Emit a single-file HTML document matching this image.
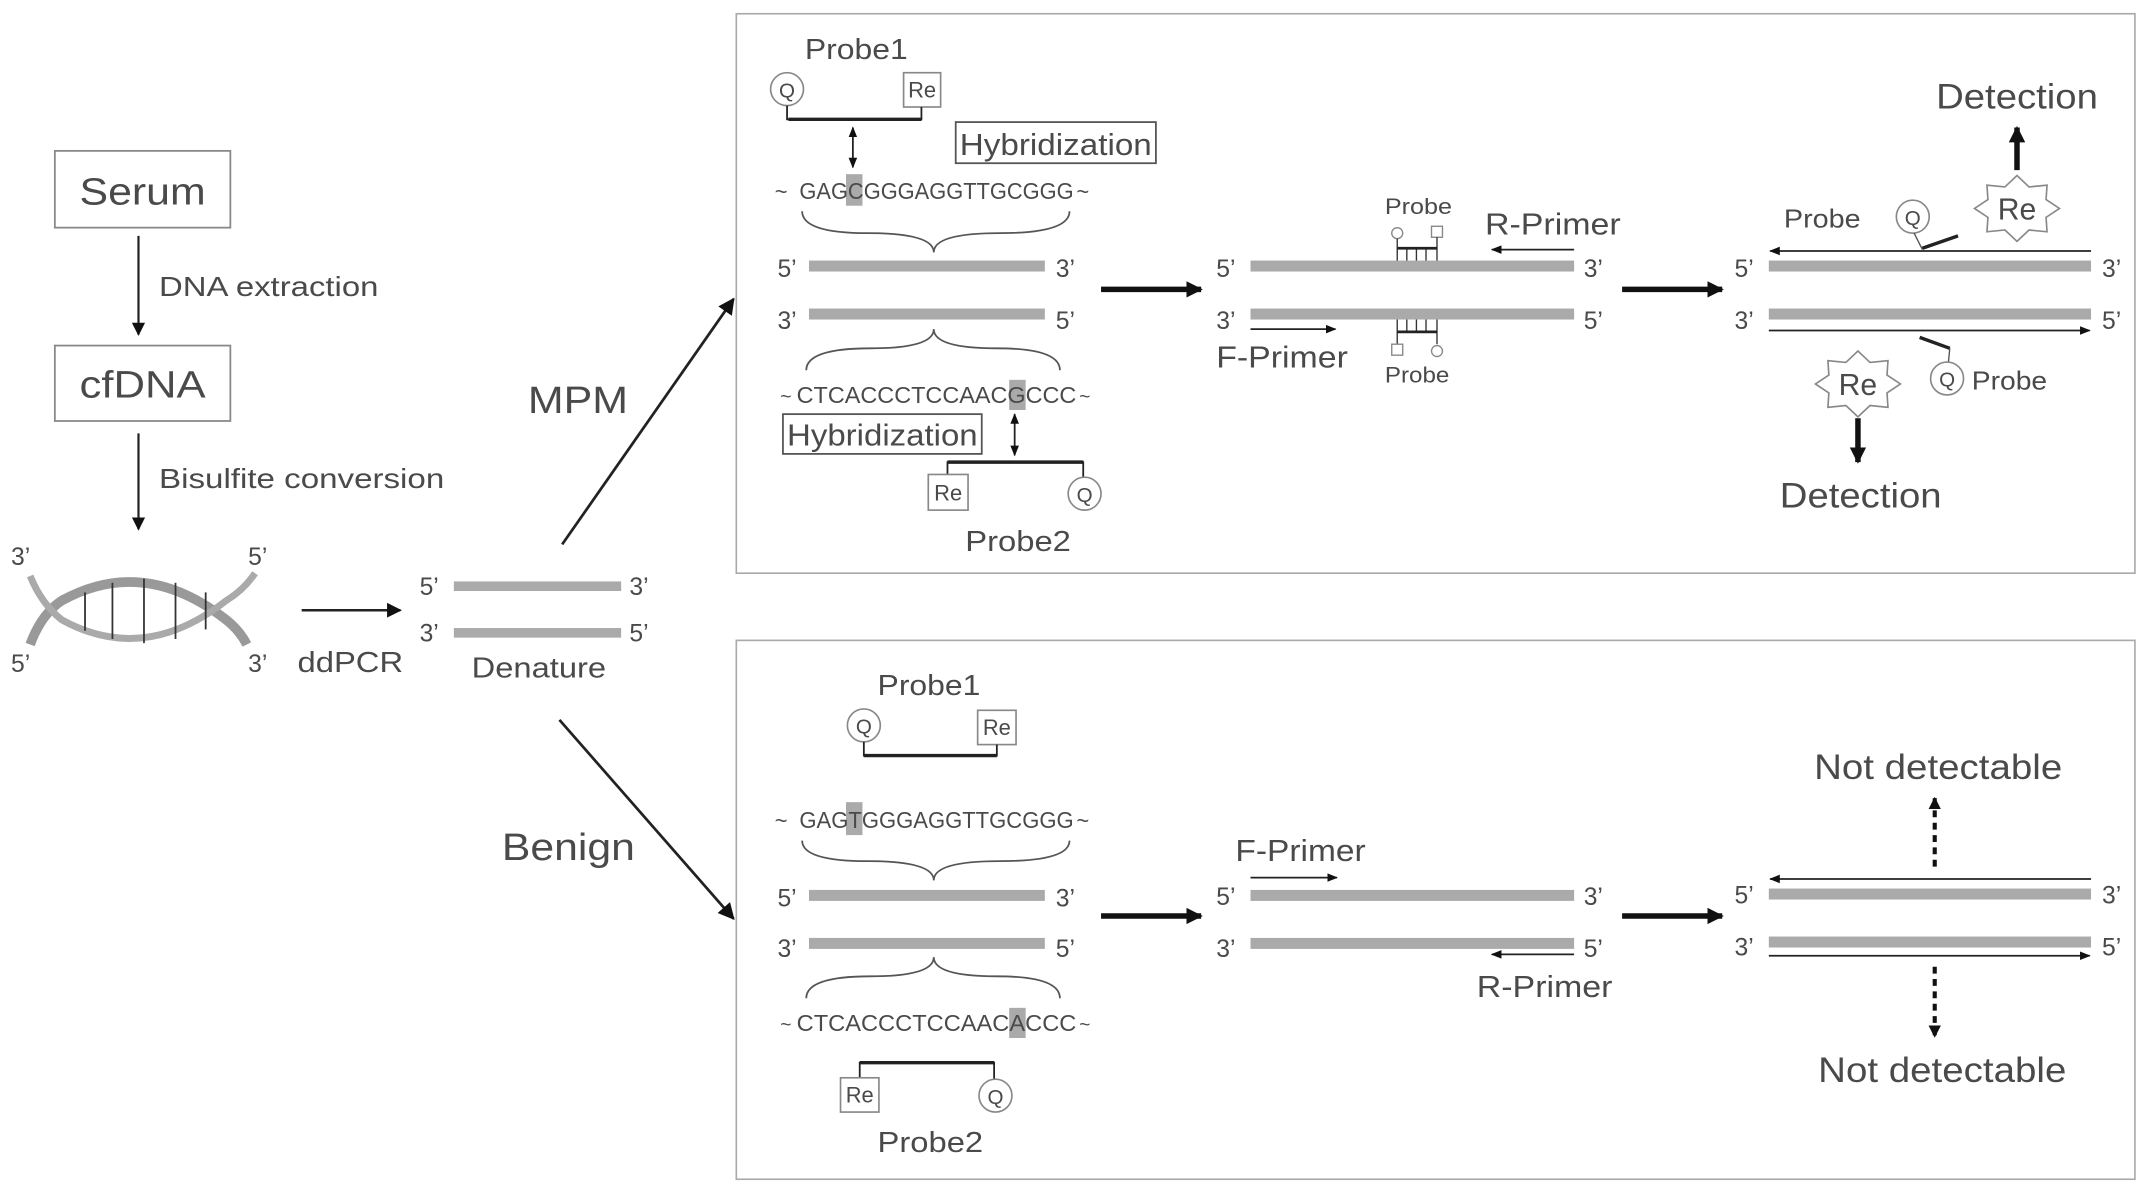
<!DOCTYPE html>
<html><head><meta charset="utf-8"><style>
html,body{margin:0;padding:0;background:#fff;width:2150px;height:1193px;overflow:hidden}
svg{display:block}
text{font-family:"Liberation Sans",sans-serif;fill:#4a4a4a}
</style></head><body>
<svg width="2150" height="1193" viewBox="0 0 1568 870" xmlns="http://www.w3.org/2000/svg">
<defs>
<marker id="ah" viewBox="0 0 10 10" refX="9" refY="5" markerWidth="6" markerHeight="6" orient="auto-start-reverse"><path d="M0,1L10,5L0,9z" fill="#111"/></marker>
<marker id="as" viewBox="0 0 10 10" refX="9" refY="5" markerWidth="7" markerHeight="6" orient="auto-start-reverse"><path d="M0,0L10,5L0,10z" fill="#111"/></marker>
<marker id="at" viewBox="0 0 10 10" refX="9" refY="5" markerWidth="3" markerHeight="3" orient="auto"><path d="M0,0L10,5L0,10z" fill="#111"/></marker>
<g id="star"><polygon points="31,0 21.2,6.5 21.9,17 8.8,15.7 0,24 -8.8,15.7 -21.9,17 -21.2,6.5 -31,0 -21.2,-6.5 -21.9,-17 -8.8,-15.7 0,-24 8.8,-15.7 21.9,-17 21.2,-6.5" fill="#fff" stroke="#888" stroke-width="1.2"/></g>
</defs>

<!-- Left flow -->
<rect x="40" y="110" width="128" height="56" fill="#fff" stroke="#888" stroke-width="1.3"/>
<text x="58" y="149" font-size="28" textLength="92" lengthAdjust="spacingAndGlyphs">Serum</text>
<line x1="101" y1="172" x2="101" y2="244" stroke="#222" stroke-width="1.6" marker-end="url(#as)"/>
<text x="116" y="216" font-size="20" textLength="160" lengthAdjust="spacingAndGlyphs">DNA extraction</text>
<rect x="40" y="252" width="128" height="55" fill="#fff" stroke="#888" stroke-width="1.3"/>
<text x="58" y="290" font-size="28" textLength="92" lengthAdjust="spacingAndGlyphs">cfDNA</text>
<line x1="101" y1="316" x2="101" y2="386" stroke="#222" stroke-width="1.6" marker-end="url(#as)"/>
<text x="116" y="356" font-size="20" textLength="208" lengthAdjust="spacingAndGlyphs">Bisulfite conversion</text>

<!-- helix -->
<path d="M22,470 Q30,448 45,438 Q105,405 165,452 Q175,460 180,470" fill="none" stroke="#999" stroke-width="7"/>
<path d="M22,420 Q30,440 45,452 Q105,485 165,438 Q178,430 186,418" fill="none" stroke="#aaa" stroke-width="5"/>
<g stroke="#333" stroke-width="1.3">
<line x1="62" y1="432" x2="62" y2="460"/><line x1="82" y1="425" x2="82" y2="466"/>
<line x1="105" y1="422" x2="105" y2="469"/><line x1="128" y1="425" x2="128" y2="466"/>
<line x1="150" y1="432" x2="150" y2="459"/></g>
<text x="8" y="412" font-size="18">3’</text><text x="181" y="412" font-size="18">5’</text>
<text x="8" y="490" font-size="18">5’</text><text x="181" y="490" font-size="18">3’</text>
<line x1="220" y1="445" x2="292" y2="445" stroke="#222" stroke-width="1.8" marker-end="url(#as)"/>
<text x="217" y="490" font-size="21" textLength="77" lengthAdjust="spacingAndGlyphs">ddPCR</text>
<text x="306" y="434" font-size="18">5’</text><rect x="331" y="424" width="122" height="7" fill="#aaa"/><text x="459" y="434" font-size="18">3’</text>
<text x="306" y="468" font-size="18">3’</text><rect x="331" y="458" width="122" height="7" fill="#aaa"/><text x="459" y="468" font-size="18">5’</text>
<text x="344" y="494" font-size="21" textLength="98" lengthAdjust="spacingAndGlyphs">Denature</text>
<line x1="410" y1="397" x2="535" y2="218" stroke="#222" stroke-width="2" marker-end="url(#as)"/>
<text x="385" y="301" font-size="28" textLength="73" lengthAdjust="spacingAndGlyphs">MPM</text>
<line x1="408" y1="525" x2="535" y2="670" stroke="#222" stroke-width="2" marker-end="url(#as)"/>
<text x="366" y="627" font-size="28" textLength="97" lengthAdjust="spacingAndGlyphs">Benign</text>

<!-- panels -->
<rect x="537" y="10" width="1020" height="408" fill="none" stroke="#aaa" stroke-width="1.2"/>
<rect x="537" y="467" width="1020" height="393" fill="none" stroke="#aaa" stroke-width="1.2"/>

<!-- ===== TOP PANEL ===== -->
<text x="587" y="43" font-size="21" textLength="75" lengthAdjust="spacingAndGlyphs">Probe1</text>
<circle cx="574" cy="65" r="12" fill="#fff" stroke="#888" stroke-width="1.2"/><text x="574" y="71" font-size="15" text-anchor="middle">Q</text>
<rect x="659" y="53" width="27" height="25" fill="#fff" stroke="#888" stroke-width="1.2"/><text x="672.5" y="71" font-size="16" text-anchor="middle">Re</text>
<path d="M574,77V87H672V78" fill="none" stroke="#222" stroke-width="1.3"/><line x1="575" y1="87" x2="672" y2="87" stroke="#222" stroke-width="2.5"/>
<line x1="622" y1="93" x2="622" y2="122" stroke="#222" stroke-width="1.3" marker-start="url(#ah)" marker-end="url(#ah)"/>
<rect x="697" y="89" width="146" height="30" fill="#fff" stroke="#555" stroke-width="1.3"/><text x="700" y="113" font-size="22" textLength="140" lengthAdjust="spacingAndGlyphs">Hybridization</text>
<rect x="617" y="127" width="12" height="23" fill="#aaa"/>
<text x="565" y="145" font-size="16">~</text><text x="583" y="145" font-size="17" textLength="200" lengthAdjust="spacingAndGlyphs">GAGCGGGAGGTTGCGGG</text><text x="785" y="145" font-size="16">~</text>
<path d="M585,154 Q585,170 633,170 Q681,170 681,184 Q681,170 729,170 Q780,170 780,154" fill="none" stroke="#555" stroke-width="1.3"/>
<text x="567" y="202" font-size="18">5’</text><rect x="590" y="190" width="172" height="8" fill="#aaa"/><text x="770" y="202" font-size="18">3’</text>
<text x="567" y="240" font-size="18">3’</text><rect x="590" y="225" width="172" height="8" fill="#aaa"/><text x="770" y="240" font-size="18">5’</text>
<path d="M588,270 Q588,254 635,254 Q681,254 681,240 Q681,254 727,254 Q773,254 773,270" fill="none" stroke="#555" stroke-width="1.3"/>
<rect x="736" y="277" width="12" height="22" fill="#aaa"/>
<text x="569" y="294" font-size="14">~</text><text x="581" y="294" font-size="17" textLength="204" lengthAdjust="spacingAndGlyphs">CTCACCCTCCAACGCCC</text><text x="787" y="294" font-size="14">~</text>
<rect x="571" y="302" width="145" height="29" fill="#fff" stroke="#555" stroke-width="1.3"/><text x="574" y="325" font-size="22" textLength="139" lengthAdjust="spacingAndGlyphs">Hybridization</text>
<line x1="740" y1="302" x2="740" y2="332" stroke="#222" stroke-width="1.3" marker-start="url(#ah)" marker-end="url(#ah)"/>
<path d="M691,346V337H790V348" fill="none" stroke="#222" stroke-width="1.3"/><line x1="691" y1="337" x2="790" y2="337" stroke="#222" stroke-width="2.5"/>
<rect x="677" y="346" width="29" height="26" fill="#fff" stroke="#888" stroke-width="1.2"/><text x="691.5" y="365" font-size="16" text-anchor="middle">Re</text>
<circle cx="791" cy="360" r="12" fill="#fff" stroke="#888" stroke-width="1.2"/><text x="791" y="366" font-size="15" text-anchor="middle">Q</text>
<text x="704" y="402" font-size="21" textLength="77" lengthAdjust="spacingAndGlyphs">Probe2</text>
<line x1="803" y1="211" x2="876" y2="211" stroke="#111" stroke-width="4" marker-end="url(#at)"/>

<text x="887" y="202" font-size="18">5’</text><rect x="912" y="190" width="236" height="8" fill="#aaa"/><text x="1155" y="202" font-size="18">3’</text>
<text x="887" y="240" font-size="18">3’</text><rect x="912" y="225" width="236" height="8" fill="#aaa"/><text x="1155" y="240" font-size="18">5’</text>
<text x="1010" y="156" font-size="16" textLength="49" lengthAdjust="spacingAndGlyphs">Probe</text>
<circle cx="1019" cy="170" r="4" fill="#fff" stroke="#888"/><rect x="1044" y="165" width="8" height="8" fill="#fff" stroke="#888"/>
<g stroke="#333" stroke-width="1"><line x1="1019" y1="174" x2="1019" y2="190"/><line x1="1048" y1="173" x2="1048" y2="190"/>
<line x1="1026" y1="181" x2="1026" y2="190"/><line x1="1033" y1="181" x2="1033" y2="190"/><line x1="1040" y1="181" x2="1040" y2="190"/></g>
<line x1="1019" y1="181" x2="1048" y2="181" stroke="#222" stroke-width="2"/>
<line x1="1148" y1="182" x2="1088" y2="182" stroke="#222" stroke-width="1.3" marker-end="url(#ah)"/>
<text x="1083" y="171" font-size="22" textLength="99" lengthAdjust="spacingAndGlyphs">R-Primer</text>
<line x1="912" y1="240" x2="974" y2="240" stroke="#222" stroke-width="1.3" marker-end="url(#ah)"/>
<text x="887" y="268" font-size="22" textLength="96" lengthAdjust="spacingAndGlyphs">F-Primer</text>
<g stroke="#333" stroke-width="1"><line x1="1019" y1="233" x2="1019" y2="251"/><line x1="1048" y1="233" x2="1048" y2="251"/>
<line x1="1026" y1="233" x2="1026" y2="242"/><line x1="1033" y1="233" x2="1033" y2="242"/><line x1="1040" y1="233" x2="1040" y2="242"/></g>
<line x1="1019" y1="242" x2="1048" y2="242" stroke="#222" stroke-width="2"/>
<rect x="1015" y="251" width="8" height="8" fill="#fff" stroke="#888"/><circle cx="1048" cy="256" r="4" fill="#fff" stroke="#888"/>
<text x="1010" y="279" font-size="16" textLength="47" lengthAdjust="spacingAndGlyphs">Probe</text>
<line x1="1183" y1="211" x2="1256" y2="211" stroke="#111" stroke-width="4" marker-end="url(#at)"/>

<text x="1265" y="202" font-size="18">5’</text><rect x="1290" y="190" width="235" height="8" fill="#aaa"/><text x="1533" y="202" font-size="18">3’</text>
<text x="1265" y="240" font-size="18">3’</text><rect x="1290" y="225" width="235" height="8" fill="#aaa"/><text x="1533" y="240" font-size="18">5’</text>
<line x1="1525" y1="183" x2="1291" y2="183" stroke="#222" stroke-width="1.3" marker-end="url(#ah)"/>
<line x1="1290" y1="241" x2="1524" y2="241" stroke="#222" stroke-width="1.3" marker-end="url(#ah)"/>
<text x="1301" y="166" font-size="19" textLength="56" lengthAdjust="spacingAndGlyphs">Probe</text>
<circle cx="1395" cy="158" r="12" fill="#fff" stroke="#888" stroke-width="1.2"/><text x="1395" y="164" font-size="15" text-anchor="middle">Q</text>
<line x1="1396" y1="170" x2="1402" y2="182" stroke="#555" stroke-width="1"/>
<line x1="1402" y1="181" x2="1428" y2="172" stroke="#222" stroke-width="2.5"/>
<use href="#star" x="1471" y="152"/><text x="1471" y="160" font-size="22" text-anchor="middle">Re</text>
<line x1="1471" y1="124" x2="1471" y2="93" stroke="#111" stroke-width="4" marker-end="url(#at)"/>
<text x="1412" y="79" font-size="26" textLength="118" lengthAdjust="spacingAndGlyphs">Detection</text>
<line x1="1400" y1="246" x2="1422" y2="254" stroke="#222" stroke-width="2.5"/>
<line x1="1422" y1="254" x2="1421" y2="264" stroke="#555" stroke-width="1"/>
<circle cx="1420" cy="276" r="12" fill="#fff" stroke="#888" stroke-width="1.2"/><text x="1420" y="282" font-size="15" text-anchor="middle">Q</text>
<text x="1438" y="284" font-size="19" textLength="55" lengthAdjust="spacingAndGlyphs">Probe</text>
<use href="#star" x="1355" y="280"/><text x="1355" y="288" font-size="22" text-anchor="middle">Re</text>
<line x1="1355" y1="305" x2="1355" y2="337" stroke="#111" stroke-width="4" marker-end="url(#at)"/>
<text x="1298" y="370" font-size="26" textLength="118" lengthAdjust="spacingAndGlyphs">Detection</text>

<!-- ===== BOTTOM PANEL ===== -->
<text x="640" y="507" font-size="21" textLength="75" lengthAdjust="spacingAndGlyphs">Probe1</text>
<circle cx="630" cy="529" r="12" fill="#fff" stroke="#888" stroke-width="1.2"/><text x="630" y="535" font-size="15" text-anchor="middle">Q</text>
<rect x="713" y="518" width="28" height="25" fill="#fff" stroke="#888" stroke-width="1.2"/><text x="727" y="536" font-size="16" text-anchor="middle">Re</text>
<path d="M630,541V551H727V543" fill="none" stroke="#222" stroke-width="1.3"/><line x1="630" y1="551" x2="727" y2="551" stroke="#222" stroke-width="2.5"/>
<rect x="617" y="585" width="12" height="24" fill="#aaa"/>
<text x="565" y="604" font-size="16">~</text><text x="583" y="604" font-size="17" textLength="200" lengthAdjust="spacingAndGlyphs">GAGTGGGAGGTTGCGGG</text><text x="785" y="604" font-size="16">~</text>
<path d="M585,613 Q585,628 633,628 Q681,628 681,642 Q681,628 729,628 Q780,628 780,613" fill="none" stroke="#555" stroke-width="1.3"/>
<text x="567" y="661" font-size="18">5’</text><rect x="590" y="649" width="172" height="8" fill="#aaa"/><text x="770" y="661" font-size="18">3’</text>
<text x="567" y="698" font-size="18">3’</text><rect x="590" y="684" width="172" height="8" fill="#aaa"/><text x="770" y="698" font-size="18">5’</text>
<path d="M588,728 Q588,712 635,712 Q681,712 681,698 Q681,712 727,712 Q773,712 773,728" fill="none" stroke="#555" stroke-width="1.3"/>
<rect x="736" y="735" width="12" height="22" fill="#aaa"/>
<text x="569" y="752" font-size="14">~</text><text x="581" y="752" font-size="17" textLength="204" lengthAdjust="spacingAndGlyphs">CTCACCCTCCAACACCC</text><text x="787" y="752" font-size="14">~</text>
<path d="M627,786V775H725V787" fill="none" stroke="#222" stroke-width="1.3"/><line x1="627" y1="775" x2="725" y2="775" stroke="#222" stroke-width="2.5"/>
<rect x="613" y="786" width="28" height="25" fill="#fff" stroke="#888" stroke-width="1.2"/><text x="627" y="804" font-size="16" text-anchor="middle">Re</text>
<circle cx="726" cy="799" r="12" fill="#fff" stroke="#888" stroke-width="1.2"/><text x="726" y="805" font-size="15" text-anchor="middle">Q</text>
<text x="640" y="840" font-size="21" textLength="77" lengthAdjust="spacingAndGlyphs">Probe2</text>
<line x1="803" y1="668" x2="876" y2="668" stroke="#111" stroke-width="4" marker-end="url(#at)"/>

<text x="887" y="660" font-size="18">5’</text><rect x="912" y="649" width="236" height="8" fill="#aaa"/><text x="1155" y="660" font-size="18">3’</text>
<text x="887" y="698" font-size="18">3’</text><rect x="912" y="684" width="236" height="8" fill="#aaa"/><text x="1155" y="698" font-size="18">5’</text>
<line x1="912" y1="640" x2="975" y2="640" stroke="#222" stroke-width="1.3" marker-end="url(#ah)"/>
<text x="901" y="628" font-size="22" textLength="95" lengthAdjust="spacingAndGlyphs">F-Primer</text>
<line x1="1148" y1="696" x2="1088" y2="696" stroke="#222" stroke-width="1.3" marker-end="url(#ah)"/>
<text x="1077" y="727" font-size="22" textLength="99" lengthAdjust="spacingAndGlyphs">R-Primer</text>
<line x1="1183" y1="668" x2="1256" y2="668" stroke="#111" stroke-width="4" marker-end="url(#at)"/>

<text x="1265" y="659" font-size="18">5’</text><rect x="1290" y="648" width="235" height="8" fill="#aaa"/><text x="1533" y="659" font-size="18">3’</text>
<text x="1265" y="697" font-size="18">3’</text><rect x="1290" y="683" width="235" height="8" fill="#aaa"/><text x="1533" y="697" font-size="18">5’</text>
<line x1="1525" y1="641" x2="1291" y2="641" stroke="#222" stroke-width="1.3" marker-end="url(#ah)"/>
<line x1="1290" y1="697" x2="1524" y2="697" stroke="#222" stroke-width="1.3" marker-end="url(#ah)"/>
<line x1="1411" y1="632" x2="1411" y2="582" stroke="#111" stroke-width="3" stroke-dasharray="5,4" marker-end="url(#at)"/>
<text x="1323" y="568" font-size="26" textLength="181" lengthAdjust="spacingAndGlyphs">Not detectable</text>
<line x1="1411" y1="705" x2="1411" y2="756" stroke="#111" stroke-width="3" stroke-dasharray="5,4" marker-end="url(#at)"/>
<text x="1326" y="789" font-size="26" textLength="181" lengthAdjust="spacingAndGlyphs">Not detectable</text>
</svg>
</body></html>
